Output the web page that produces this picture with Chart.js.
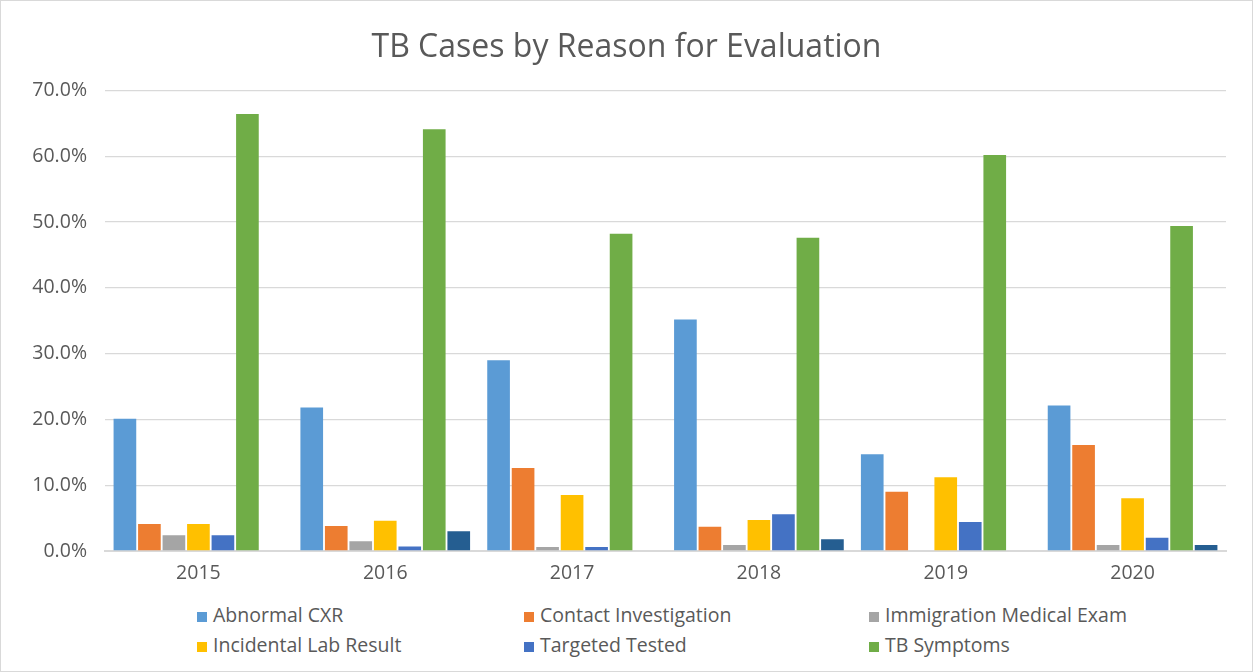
<!DOCTYPE html>
<html>
<head>
<meta charset="utf-8">
<script src="https://cdn.jsdelivr.net/npm/chart.js@4"></script>
<style>
  html, body { margin: 0; padding: 0; background: #fff; }
  #wrap { position: relative; width: 1253px; height: 672px; box-sizing: border-box; border: 1px solid #d9d9d9; }
  #holder { position: absolute; left: 0; top: 0; width: 1251px; height: 600px; }
  #legend { position: absolute; left: 0; top: 600px; width: 1251px; height: 70px; font-family: "Open Sans", sans-serif; font-size: 19.5px; color: #595959; }
  .item { position: absolute; white-space: nowrap; line-height: 22px; }
  .box { display: inline-block; width: 10px; height: 10px; margin-right: 6px; vertical-align: 0px; }
</style>
</head>
<body>
<div id="wrap">
  <div id="holder"><canvas id="chartjs"></canvas></div>
  <div id="legend"></div>
</div>
<script>
const years = ['2015', '2016', '2017', '2018', '2019', '2020'];

const abnormalCxr = [20.1, 21.8, 29.0, 35.2, 14.7, 22.1];
const contactInv = [4.1, 3.8, 12.6, 3.7, 9.0, 16.1];
const immigration = [2.4, 1.5, 0.6, 0.9, 0, 0.9];
const incidentalLab = [4.1, 4.6, 8.5, 4.7, 11.2, 8.0];
const targeted = [2.4, 0.7, 0.6, 5.6, 4.4, 2.0];
const tbSymptoms = [66.4, 64.1, 48.2, 47.6, 60.2, 49.4];
const other = [0, 3.0, 0, 1.8, 0, 0.9];

const yTicks = [0, 10, 20, 30, 40, 50, 60, 70];

const series = [
    { label: 'Abnormal CXR', data: abnormalCxr, color: '#5B9BD5', legend: true },
    { label: 'Contact Investigation', data: contactInv, color: '#ED7D31', legend: true },
    { label: 'Immigration Medical Exam', data: immigration, color: '#A5A5A5', legend: true },
    { label: 'Incidental Lab Result', data: incidentalLab, color: '#FFC000', legend: true },
    { label: 'Targeted Tested', data: targeted, color: '#4472C4', legend: true },
    { label: 'TB Symptoms', data: tbSymptoms, color: '#70AD47', legend: true },
    { label: 'Other', data: other, color: '#255E91', legend: false }
];

const ctx = document.getElementById('chartjs').getContext('2d');

new Chart(ctx, {
    type: 'bar',
    data: {
        labels: years,
        datasets: series.map(s => ({
            label: s.label,
            data: s.data,
            backgroundColor: s.color,
            borderWidth: 0,
            categoryPercentage: 0.918,
            barPercentage: 0.925
        }))
    },
    options: {
        responsive: true,
        maintainAspectRatio: false,
        animation: false,
        layout: { padding: 0 },
        plugins: {
            legend: { display: false },
            tooltip: { enabled: false },
            title: {
                display: true,
                text: 'TB Cases by Reason for Evaluation',
                color: '#595959',
                font: { family: 'Open Sans', size: 32, weight: 'normal' },
                padding: { top: 28, bottom: 23 }
            }
        },
        scales: {
            x: {
                grid: { display: false, drawTicks: false },
                border: { color: '#d9d9d9', width: 2 },
                ticks: { color: '#595959', font: { family: 'Open Sans', size: 19.5 }, padding: 11 },
                afterFit: s => { s.height = 50; }
            },
            y: {
                min: 0,
                max: 70,
                afterBuildTicks: s => { s.ticks = yTicks.map(v => ({ value: v })); },
                grid: { color: '#d9d9d9', lineWidth: 1.3, drawTicks: false },
                border: { display: false },
                ticks: {
                    color: '#595959',
                    font: { family: 'Open Sans', size: 19.5 },
                    padding: 18,
                    callback: v => v.toFixed(1) + '%'
                },
                afterFit: s => { s.width = 104; }
            },
            // empty right-hand axis: just keeps the plot off the right edge
            spacer: {
                position: 'right',
                grid: { display: false, drawTicks: false },
                border: { display: false },
                ticks: { display: false },
                afterFit: s => { s.width = 26; }
            }
        }
    }
});

// legend in the same 3-column grid as the picture
const legendEl = document.getElementById('legend');
const cols = [196, 523, 868];
const rows = [3, 33];
series.filter(s => s.legend).forEach((s, i) => {
    const d = document.createElement('div');
    d.className = 'item';
    d.style.left = cols[i % 3] + 'px';
    d.style.top = rows[Math.floor(i / 3)] + 'px';
    d.innerHTML = '<span class="box" style="background:' + s.color + '"></span>' + s.label;
    legendEl.appendChild(d);
});
</script>
</body>
</html>
